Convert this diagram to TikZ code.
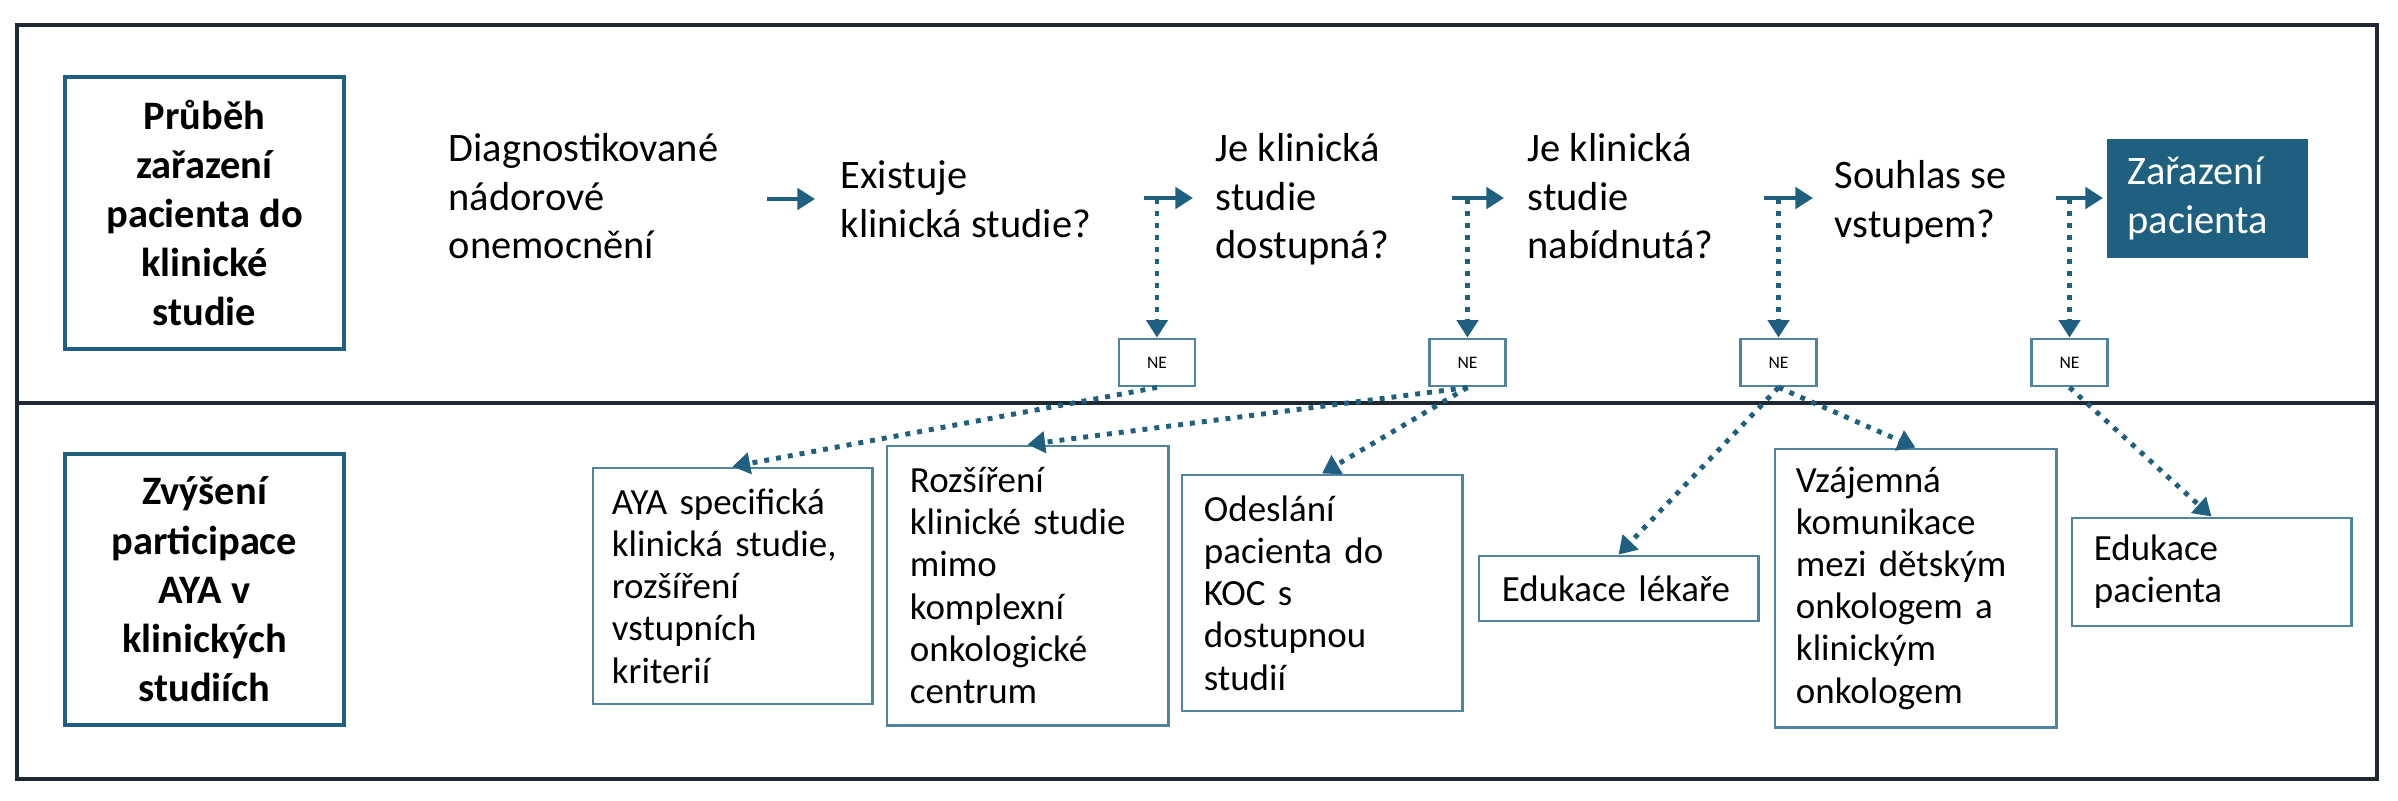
\documentclass[tikz,border=0pt]{standalone}
\usepackage{fontspec}
\setmainfont{Carlito}
\usetikzlibrary{arrows.meta}
\definecolor{teal}{HTML}{1F5F7F}
\definecolor{boxc}{HTML}{4F84A3}
\definecolor{frame}{HTML}{1E2933}
\begin{document}
\begin{tikzpicture}[x=0.01cm,y=-0.01cm,
  flow/.style={anchor=north west,inner sep=0pt,align=left,font=\fontsize{11.5}{13.8}\selectfont},
  head/.style={draw=teal,line width=1.3pt,minimum width=2.79cm,align=center,font=\bfseries\fontsize{11.5}{14}\selectfont},
  box/.style={draw=boxc,line width=0.8pt,align=left,font=\fontsize{10.5}{12}\selectfont,inner xsep=0pt},
  ne/.style={draw=boxc,line width=0.8pt,minimum width=0.76cm,minimum height=0.47cm,inner sep=0pt,font=\fontsize{5}{6}\selectfont},
  arr/.style={teal,line width=1.4pt,-{Triangle[length=5pt,width=6pt]}},
  dot/.style={teal,line width=1.4pt,dotted,-{Triangle[length=5pt,width=6pt]}}]
\useasboundingbox (0,0) rectangle (2398,800);
\draw[frame,line width=1.3pt] (17,25) rectangle (2377,779);
\draw[frame,line width=1.3pt] (17,403) -- (2377,403);
\node[head,minimum height=2.72cm] (h1) at (204.5,213) {Průběh\\zařazení\\pacienta do\\klinické\\studie};
\node[head,minimum height=2.71cm] (h2) at (204.5,589.5) {Zvýšení\\participace\\AYA v\\klinických\\studiích};
\node[flow] (t1) at (448,133) {Diagnostikované\\nádorové\\onemocnění};
\node[flow] (t2) at (840,160) {Existuje\\klinická studie?};
\node[flow] (t3) at (1215,133) {Je klinická\\studie\\dostupná?};
\node[flow] (t4) at (1527,133) {Je klinická\\studie\\nabídnutá?};
\node[flow] (t5) at (1834,160) {Souhlas se\\vstupem?};
\node[fill=teal,text=white,minimum width=2.01cm,minimum height=1.19cm,text width=1.6cm,align=left,font=\fontsize{11.5}{13.8}\selectfont] (t6) at (2207.5,198.5) {Zařazení\\pacienta};
\coordinate (a1s) at (767,199); \coordinate (a1e) at (815,199);
\coordinate (a2s) at (1144,198); \coordinate (a2e) at (1193,198);
\coordinate (a3s) at (1452,198); \coordinate (a3e) at (1504,198);
\coordinate (a4s) at (1764,198); \coordinate (a4e) at (1813,198);
\coordinate (a5s) at (2056,198); \coordinate (a5e) at (2103,198);
\foreach \i in {1,...,5} \draw[arr] (a\i s) -- (a\i e);
\node[ne] (n1) at (1157,362.5) {NE};
\node[ne] (n2) at (1467.5,362.5) {NE};
\node[ne] (n3) at (1778.5,362.5) {NE};
\node[ne] (n4) at (2069.5,362.5) {NE};
\coordinate (d1) at (1157,199); \coordinate (d2) at (1467.5,199);
\coordinate (d3) at (1778.5,199); \coordinate (d4) at (2069.5,199);
\foreach \i in {1,...,4} \draw[dot] (d\i) -- (n\i.north);
\node[box,minimum width=2.79cm,minimum height=2.36cm,text width=2.41cm] (b1) at (732.5,586) {AYA specifická\\klinická studie,\\rozšíření\\vstupních\\kriterií};
\node[box,minimum width=2.81cm,minimum height=2.79cm,text width=2.35cm] (b2) at (1027.5,585.5) {Rozšíření\\klinické studie\\mimo\\komplexní\\onkologické\\centrum};
\node[box,minimum width=2.80cm,minimum height=2.36cm,text width=2.36cm] (b3) at (1322,593) {Odeslání\\pacienta do\\KOC s\\dostupnou\\studií};
\node[box,minimum width=2.79cm,minimum height=0.65cm,text width=2.33cm] (b4) at (1618.5,588.5) {Edukace lékaře};
\node[box,minimum width=2.81cm,minimum height=2.78cm,text width=2.39cm] (b5) at (1915.5,588) {Vzájemná\\komunikace\\mezi dětským\\onkologem a\\klinickým\\onkologem};
\node[box,minimum width=2.79cm,minimum height=1.08cm,text width=2.35cm] (b6) at (2211.5,572) {Edukace\\pacienta};
\draw[dot] (n1.south) -- (b1.north);
\draw[dot] (n2.south) -- (b2.north);
\draw[dot] (n2.south) -- (b3.north);
\draw[dot] (n3.south) -- (b4.north);
\draw[dot] (n3.south) -- (b5.north);
\draw[dot] (n4.south) -- (b6.north);
\end{tikzpicture}
\end{document}
